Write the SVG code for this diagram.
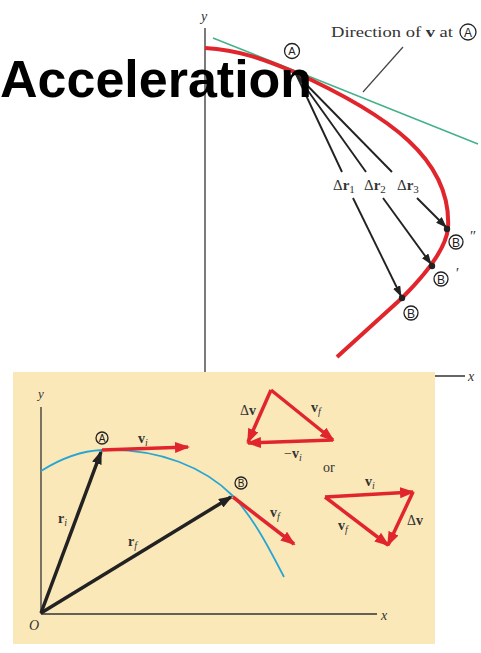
<svg xmlns="http://www.w3.org/2000/svg" width="481" height="653" viewBox="0 0 481 653">
<style>
.serif{font-family:"Liberation Serif","Times New Roman",serif;fill:#333}
.it{font-style:italic}
.b{font-weight:bold}
.sub{font-size:10px;font-style:italic}
.circ{fill:none;stroke:#222;stroke-width:1.3}
.cl{font-family:"Liberation Sans",Arial,sans-serif;fill:#222;text-anchor:middle}
.axis{stroke:#333;stroke-width:1.3;fill:none}
.thin{stroke:#222;stroke-width:1.9;fill:none}
.thick{stroke:#222;stroke-width:3.5;fill:none}
.red{stroke:#e0262c;stroke-width:3.5;fill:none}
</style>
<defs>
<marker id="hb" markerUnits="userSpaceOnUse" markerWidth="11" markerHeight="8" refX="10" refY="4" orient="auto"><path d="M0,0 L11,4 L0,8 z" fill="#222"/></marker>
<marker id="hB" markerUnits="userSpaceOnUse" markerWidth="14" markerHeight="10" refX="12" refY="5" orient="auto"><path d="M0,0 L14,5 L0,10 z" fill="#222"/></marker>
<marker id="hr" markerUnits="userSpaceOnUse" markerWidth="15" markerHeight="11" refX="13" refY="5.5" orient="auto"><path d="M0,0 L15,5.5 L0,11 z" fill="#e0262c"/></marker>
</defs>
<rect width="481" height="653" fill="#fff"/>

<g id="top-axes">
<line class="axis" x1="205" y1="28" x2="205" y2="380"/>
<text class="serif it" x="201" y="21" font-size="14">y</text>
<line class="axis" x1="430" y1="376" x2="465" y2="376"/>
<text class="serif it" x="468" y="381" font-size="14">x</text>
</g>

<g id="tangent">
<line x1="213" y1="38" x2="478" y2="144" stroke="#45b389" stroke-width="1.6"/>
<line x1="363" y1="92" x2="403" y2="47" stroke="#444" stroke-width="1.2"/>
<text class="serif" x="331" y="37" font-size="14" textLength="122" lengthAdjust="spacingAndGlyphs">Direction of <tspan class="b">v</tspan> at</text>
<circle class="circ" cx="468" cy="32" r="8"/>
<text class="cl" x="468" y="37" font-size="12">A</text>
</g>

<g id="path-top">
<path d="M205,48 C240,50 265,60 292,71 C390,115 452,160 448,228 C446,250 425,275 402,298 L337,357" stroke="#e0262c" stroke-width="4" fill="none"/>
</g>

<g id="point-A-top">
<circle class="circ" cx="292" cy="51" r="7.5"/>
<text class="cl" x="292" y="55" font-size="11">A</text>
</g>

<g id="connectors-top">
<line class="thin" x1="296" y1="74" x2="342" y2="172"/>
<line class="thin" x1="353" y1="198" x2="401" y2="296" marker-end="url(#hb)"/>
<line class="thin" x1="296" y1="74" x2="366" y2="172"/>
<line class="thin" x1="383" y1="198" x2="431" y2="264" marker-end="url(#hb)"/>
<line class="thin" x1="296" y1="74" x2="392" y2="172"/>
<line class="thin" x1="417" y1="198" x2="446" y2="227" marker-end="url(#hb)"/>
</g>

<g id="dr-labels">
<text class="serif" x="333" y="190" font-size="15">Δ<tspan class="b">r</tspan><tspan font-size="11" dy="3">1</tspan></text>
<text class="serif" x="364" y="190" font-size="15">Δ<tspan class="b">r</tspan><tspan font-size="11" dy="3">2</tspan></text>
<text class="serif" x="397" y="190" font-size="15">Δ<tspan class="b">r</tspan><tspan font-size="11" dy="3">3</tspan></text>
</g>

<g id="point-B2">
<circle cx="447" cy="229" r="3.2" fill="#222"/>
<circle class="circ" cx="456" cy="242" r="7"/>
<text class="cl" x="456" y="246.5" font-size="12">B</text>
<text class="serif it" x="469" y="241" font-size="15">″</text>
</g>
<g id="point-B1">
<circle cx="432" cy="266" r="3.2" fill="#222"/>
<circle class="circ" cx="441" cy="279" r="7"/>
<text class="cl" x="441" y="283.5" font-size="12">B</text>
<text class="serif it" x="455" y="278" font-size="15">′</text>
</g>
<g id="point-B">
<circle cx="402" cy="298" r="3.2" fill="#222"/>
<circle class="circ" cx="411" cy="313" r="7"/>
<text class="cl" x="411" y="317.5" font-size="12">B</text>
</g>

<g id="panel">
<rect x="13" y="372" width="422" height="272" fill="#fbe8b9"/>
<line class="axis" x1="41" y1="407" x2="41" y2="614"/>
<line class="axis" x1="41" y1="614" x2="377" y2="614"/>
<text class="serif it" x="38" y="398" font-size="13">y</text>
<text class="serif it" x="381" y="620" font-size="14">x</text>
<text class="serif it" x="29" y="630" font-size="14">O</text>
</g>

<g id="trajectory">
<path d="M41,471 C60,459 80,451 102,450 C160,448 205,468 233,496 C255,520 270,550 284,577" stroke="#27a6d4" stroke-width="1.8" fill="none"/>
</g>

<g id="point-A">
<circle class="circ" cx="102" cy="438" r="6"/>
<text class="cl" x="102" y="442" font-size="10">A</text>
</g>
<g id="point-B-bottom">
<circle class="circ" cx="241" cy="483" r="6"/>
<text class="cl" x="241" y="487" font-size="10">B</text>
</g>

<g id="connectors-bottom">
<line class="thick" x1="41" y1="613" x2="101" y2="452" marker-end="url(#hB)"/>
<line class="thick" x1="41" y1="613" x2="231" y2="497" marker-end="url(#hB)"/>
<line class="red" x1="102" y1="450" x2="188" y2="447" marker-end="url(#hr)"/>
<line class="red" x1="233" y1="497" x2="294" y2="544" marker-end="url(#hr)"/>
</g>

<g id="bottom-labels">
<text class="serif" x="138" y="443" font-size="14"><tspan class="b">v</tspan><tspan class="sub" dy="3">i</tspan></text>
<text class="serif" x="58" y="523" font-size="14"><tspan class="b">r</tspan><tspan class="sub" dy="3">i</tspan></text>
<text class="serif" x="128" y="546" font-size="14"><tspan class="b">r</tspan><tspan class="sub" dy="3">f</tspan></text>
<text class="serif" x="270" y="517" font-size="14"><tspan class="b">v</tspan><tspan class="sub" dy="3">f</tspan></text>
</g>

<g id="triangle-1">
<line class="red" x1="271" y1="390" x2="333" y2="440" marker-end="url(#hr)"/>
<line class="red" x1="333" y1="440" x2="248" y2="443" marker-end="url(#hr)"/>
<line class="red" x1="271" y1="390" x2="248" y2="442" marker-end="url(#hr)"/>
<text class="serif" x="240" y="415" font-size="14">Δ<tspan class="b">v</tspan></text>
<text class="serif" x="311" y="412" font-size="14"><tspan class="b">v</tspan><tspan class="sub" dy="3">f</tspan></text>
<text class="serif" x="284" y="458" font-size="14">−<tspan class="b">v</tspan><tspan class="sub" dy="3">i</tspan></text>
</g>

<text class="serif" x="323" y="472" font-size="14">or</text>

<g id="triangle-2">
<line class="red" x1="325" y1="497" x2="413" y2="492" marker-end="url(#hr)"/>
<line class="red" x1="325" y1="497" x2="388" y2="545" marker-end="url(#hr)"/>
<line class="red" x1="413" y1="492" x2="388" y2="545" marker-end="url(#hr)"/>
<text class="serif" x="365" y="486" font-size="14"><tspan class="b">v</tspan><tspan class="sub" dy="3">i</tspan></text>
<text class="serif" x="338" y="530" font-size="14"><tspan class="b">v</tspan><tspan class="sub" dy="3">f</tspan></text>
<text class="serif" x="407" y="525" font-size="14">Δ<tspan class="b">v</tspan></text>
</g>

<text x="0" y="97" font-family="'Liberation Sans',Arial,sans-serif" font-weight="bold" font-size="52" fill="#000">Acceleration</text>
</svg>
